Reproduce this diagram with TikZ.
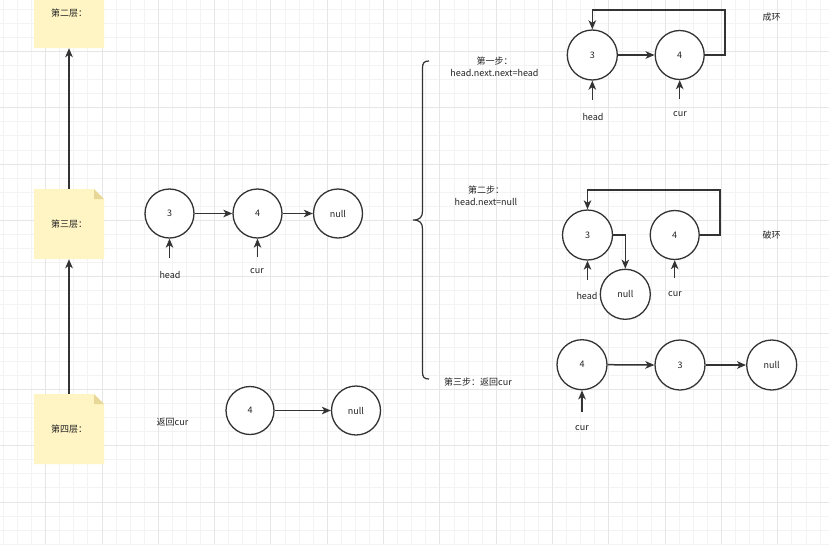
\documentclass[tikz,border=0pt]{standalone}
\usepackage{fontspec}
\setmainfont{Noto Sans CJK SC}
\usetikzlibrary{arrows.meta}
\definecolor{linec}{HTML}{333333}
\definecolor{txtc}{HTML}{222222}
\definecolor{notefill}{HTML}{FFF4C3}
\definecolor{notefold}{HTML}{E8D898}
\definecolor{gridminor}{HTML}{F3F3F3}
\definecolor{gridmajor}{HTML}{E6E6E6}
\tikzset{
  circ/.style={circle, draw=linec, line width=1.3pt, fill=white, minimum size=49pt, inner sep=0pt, text=txtc, font=\fontsize{9}{11}\selectfont},
  arr/.style={draw=linec, line width=1.5pt, -{Stealth[length=9pt,width=7.5pt,inset=2.5pt]}},
  lbl/.style={text=txtc, font=\fontsize{9}{12.5}\selectfont, inner sep=0pt, align=center},
  notebox/.style={rectangle, minimum width=70pt, minimum height=70pt, inner sep=0pt, text=txtc, font=\fontsize{9}{11}\selectfont,
    path picture={
      \fill[notefill] (path picture bounding box.south west) -- (path picture bounding box.north west)
        -- ([xshift=-10pt]path picture bounding box.north east) -- ([yshift=-10pt]path picture bounding box.north east)
        -- (path picture bounding box.south east) -- cycle;
      \fill[notefold] ([xshift=-10pt]path picture bounding box.north east) -- ([xshift=-10pt,yshift=-10pt]path picture bounding box.north east)
        -- ([yshift=-10pt]path picture bounding box.north east) -- cycle;
    }},
  minorgrid/.style={draw=gridminor, line width=1pt},
  majorgrid/.style={draw=gridmajor, line width=1pt}
}
\begin{document}
\begin{tikzpicture}[x=1pt,y=-1pt]
\useasboundingbox (0,0) rectangle (829,544);
\clip (0,0) rectangle (829,544);
\fill[white] (0,0) rectangle (829,544);
% grid
\foreach \k in {-4,...,57} {
  \pgfmathsetmacro\xx{45.7+14.08*\k}
  \draw[minorgrid] (\xx,0) -- (\xx,544);
}
\foreach \k in {-33,...,8} {
  \pgfmathsetmacro\yy{445.7+14.08*\k}
  \draw[minorgrid] (0,\yy) -- (829,\yy);
}
\foreach \k in {-1,...,14} {
  \pgfmathsetmacro\xx{45.7+56.32*\k}
  \draw[majorgrid] (\xx,0) -- (\xx,544);
}
\foreach \k in {-8,...,2} {
  \pgfmathsetmacro\yy{445.7+56.32*\k}
  \draw[majorgrid] (0,\yy) -- (829,\yy);
}

% sticky notes
\node[notebox] (n1) at (69,13) {第二层：};
\node[notebox] (n2) at (69,224) {第三层：};
\node[notebox] (n3) at (69,429) {第四层：};
\draw[arr] (n3.north) -- (n2.south);
\draw[arr] (n2.north) -- (n1.south);

% middle chain
\node[circ] (c3a) at (169.5,213.5) {3};
\node[circ] (c4a) at (257.5,213.5) {4};
\node[circ] (na) at (338,213.5) {null};
\draw[arr] (c3a.east) -- (c4a.west);
\draw[arr] (c4a.east) -- (na.west);
\coordinate (ph1) at (169.5,258);
\coordinate (pc1) at (257.5,257);
\draw[arr] (ph1) -- (c3a.south);
\draw[arr] (pc1) -- (c4a.south);
\node[lbl] (lh1) at (170,275) {head};
\node[lbl] (lc1) at (257,271) {cur};

% bottom chain
\node[lbl] (ret) at (172.5,422) {返回cur};
\node[circ, minimum size=48pt] (cb4) at (250,410.5) {4};
\node[circ] (nb) at (356,410.5) {null};
\draw[arr] (cb4.east) -- (nb.west);

% brace
\draw[linec, line width=1.2pt] (429,61) .. controls (424,61) and (422.5,63) .. (422.5,68)
  -- (422.5,211) .. controls (422.5,217) and (420,220) .. (413,220)
  .. controls (420,220) and (422.5,223) .. (422.5,229)
  -- (422.5,372) .. controls (422.5,377) and (424,379) .. (429,379);

% step labels
\node[lbl] (st1) at (494.5,67) {第一步：\\head.next.next=head};
\node[lbl] (st2) at (486,196) {第二步：\\head.next=null};
\node[lbl] (st3) at (478,381.7) {第三步：返回cur};

% step 1
\node[circ, minimum size=50pt] (s1a) at (592.3,55) {3};
\node[circ] (s1b) at (679.7,55) {4};
\draw[arr] (s1a.east) -- (s1b.west);
\draw[arr] (s1b.east) -| (725,10) -| (s1a.north);
\coordinate (ph2) at (592.3,100);
\coordinate (pc2) at (679.7,99);
\draw[arr] (ph2) -- (s1a.south);
\draw[arr] (pc2) -- (s1b.south);
\node[lbl] (lh2) at (593,116.7) {head};
\node[lbl] (lc2) at (680,114.3) {cur};
\node[lbl] (t1) at (771.7,17.3) {成环};

% step 2
\node[circ, minimum size=50pt] (s2a) at (587.5,235) {3};
\node[circ] (s2b) at (674.7,235) {4};
\node[circ, minimum size=50pt] (s2n) at (625.3,294.3) {null};
\draw[arr] (s2a.east) -| (s2n.north);
\draw[arr] (s2b.east) -| (720,190) -| (s2a.north);
\coordinate (ph3) at (587.5,280);
\coordinate (pc3) at (674.7,278);
\draw[arr] (ph3) -- (s2a.south);
\draw[arr] (pc3) -- (s2b.south);
\node[lbl] (lh3) at (587,295.7) {head};
\node[lbl] (lc3) at (675,294) {cur};
\node[lbl] (t2) at (771.7,235) {破环};

% step 3
\node[circ, minimum size=50pt] (s3a) at (582,364.7) {4};
\node[circ, minimum size=50pt] (s3b) at (680,365) {3};
\node[circ, minimum size=50pt] (s3n) at (771.7,365) {null};
\draw[arr] (s3a.east) -- (s3b.west);
\draw[arr] (s3b.east) -- (s3n.west);
\coordinate (pc4) at (582,411.7);
\draw[arr] (pc4) -- (s3a.south);
\node[lbl] (lc4) at (582,428.3) {cur};
\end{tikzpicture}
\end{document}
